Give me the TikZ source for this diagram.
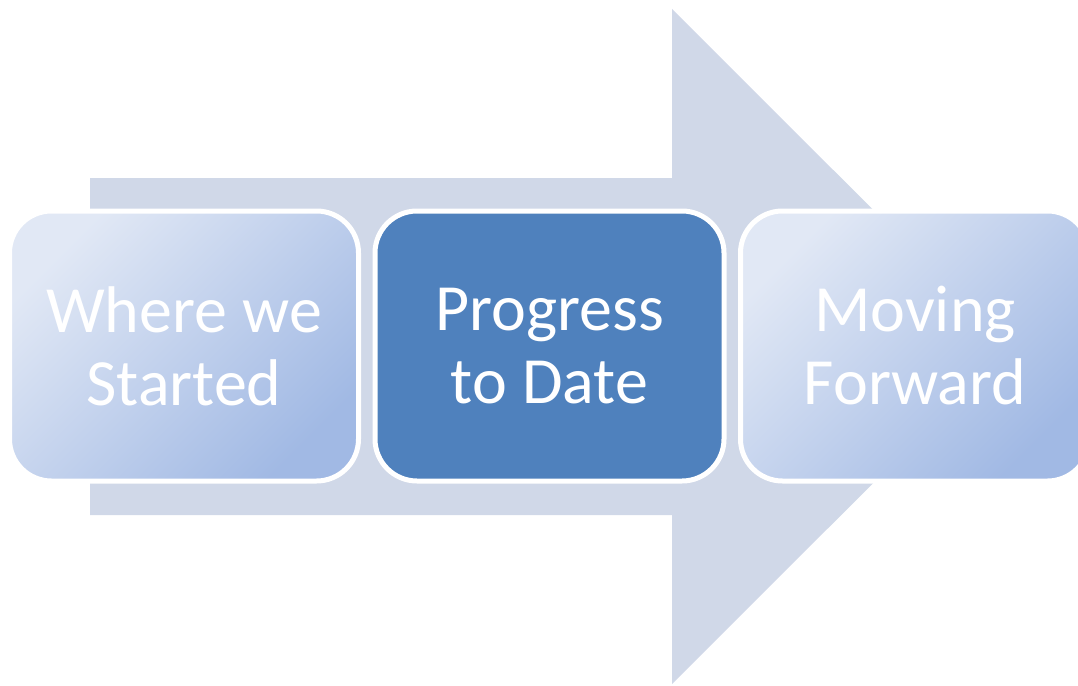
\documentclass[tikz,border=0pt]{standalone}
\usepackage{fontspec}
\setmainfont{Carlito}
\usetikzlibrary{positioning}

\definecolor{arrowgrey}{HTML}{D0D8E8}
\definecolor{stepdark}{HTML}{4F81BD}
\definecolor{steplight}{HTML}{E1E8F5}
\definecolor{stepmid}{HTML}{A1B9E4}

\begin{document}
\begin{tikzpicture}[x=1pt,y=-1pt]

\tikzset{stepbox/.style={rectangle, rounded corners=42pt, draw=white, line width=5pt,
    minimum width=349pt, minimum height=270pt, align=center, text=white,
    font=\fontsize{66}{73}\selectfont},
  lightstep/.style={stepbox, top color=steplight, bottom color=stepmid, shading angle=45},
  darkstep/.style={stepbox, fill=stepdark}}

\useasboundingbox (0,0) rectangle (1078,685);

% big arrow behind the steps
\fill[arrowgrey] (90,178) -- (672,178) -- (672,9) -- (1010,346.5)
    -- (672,684) -- (672,515) -- (90,515) -- cycle;

\node[lightstep] (started) at (184,346) {Where we\\Started};
\node[darkstep, right=11.5pt of started] (progress) {Progress\\to Date};
\node[lightstep, right=11.5pt of progress] (forward) {Moving\\Forward};

\end{tikzpicture}
\end{document}
